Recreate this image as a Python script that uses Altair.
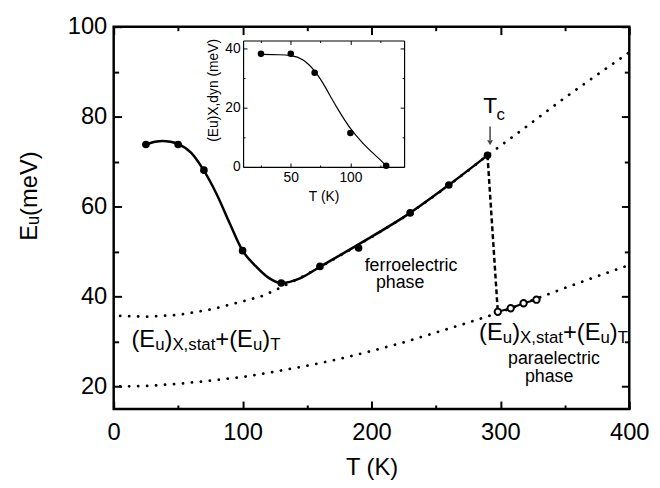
import altair as alt
import pandas as pd

# ---------------- data ----------------
# ferroelectric phase (filled circles)
T_ferro = [25, 50, 70, 100, 130, 160, 190, 230, 260, 290]
E_ferro = [73.8, 73.8, 68.1, 50.2, 43.0, 46.7, 50.8, 58.6, 64.8, 71.4]
# paraelectric phase (open circles)
T_para = [298, 308, 318, 328]
E_para = [36.6, 37.4, 38.5, 39.3]
# solid guide curve through the ferroelectric data
T_fit = [25, 32, 38, 44, 50, 60, 70, 80, 90, 100, 110, 120, 130, 145, 160, 190, 230, 260, 290]
E_fit = [73.8, 74.4, 74.6, 74.4, 73.9, 72.0, 68.0, 62.7, 56.3, 50.2, 46.8, 44.2, 43.0, 44.1, 46.6, 51.6, 58.6, 64.8, 71.4]
# dotted curves (Eu)X,stat + (Eu)T
T_upper = [5, 25, 50, 75, 100, 115, 126, 145, 160, 175, 200, 225, 250, 275, 290, 310, 330, 350, 375, 400]
E_upper = [35.7, 35.5, 35.9, 37.1, 38.9, 40.1, 41.5, 44.2, 46.5, 49.0, 53.2, 57.6, 62.6, 68.0, 71.4, 75.6, 79.9, 84.2, 89.3, 94.3]
T_lower = [5, 25, 50, 75, 100, 125, 150, 175, 200, 225, 250, 275, 300, 325, 350, 375, 400]
E_lower = [20.0, 20.1, 20.6, 21.3, 22.1, 23.3, 24.6, 26.1, 27.9, 29.8, 32.0, 34.2, 36.5, 39.2, 41.9, 44.5, 47.0]
# dashed jump at Tc
T_drop = [290, 298]
E_drop = [71.4, 36.6]
# Tc arrow
T_arrow = [292]
E_arrow_top = [77.8]
E_arrow_bot = [74.8]
E_arrow_head = [74.2]

# inset: (Eu)X,dyn
T_dyn = [25, 50, 70, 100, 130]
E_dyn = [38.2, 38.2, 31.8, 11.5, 0.4]
T_dynfit = [25, 40, 50, 60, 65, 70, 75, 80, 85, 90, 100, 110, 118, 125, 130]
E_dynfit = [38.0, 37.9, 37.6, 36.2, 34.6, 32.4, 29.6, 26.2, 22.6, 19.2, 13.0, 8.2, 5.0, 2.4, 0.4]

# ticks
x_ticks = [0, 50, 100, 150, 200, 250, 300, 350, 400]
y_ticks = [20, 30, 40, 50, 60, 70, 80, 90, 100]
inset_x_ticks = [25, 50, 75, 100, 125]
inset_y_ticks = [0, 10, 20, 30, 40]

# annotations
phase_text = ["ferroelectric", "phase", "paraelectric", "phase"]
phase_T = [230.7, 222.2, 341.6, 337.8]
phase_E = [45.6, 42.0, 25.05, 20.9]
label_T = [13.8, 283.5]
label_E = [28.8, 30.4]
label_segments = ["(E", "u", ")", "X,stat", "+(E", "u", ")", "T"]
label_is_sub = [False, True, False, True, False, True, False, True]
tc_T = [292]
tc_E = [80.7]

# ---------------- layout / style ----------------
FONT = "Liberation Sans"
W, H = 522, 387
BIG, SMALL = 24, 17
ARIAL = {'(': 0.333, ')': 0.333, 'E': 0.667, 'u': 0.556, 'X': 0.667, ',': 0.278,
         's': 0.5, 't': 0.278, 'a': 0.556, '+': 0.584, 'T': 0.611}

XS = alt.Scale(domain=[0, 400], nice=False, zero=False)
YS = alt.Scale(domain=[15, 100], nice=False, zero=False)
IXS = alt.Scale(domain=[10, 145], range=[131, 294], nice=False, zero=False)
IYS = alt.Scale(domain=[0, 42.7], range=[142, 14], nice=False, zero=False)

xmaj = "datum.value % 100 === 0"
ymaj = "datum.value % 20 === 0"
ixmaj = "datum.value % 50 === 0"
iymaj = "datum.value % 20 === 0"

ax_bottom = alt.Axis(orient="bottom", values=x_ticks, tickSize={"expr": f"{xmaj} ? -8 : -4"},
                     tickWidth=2, labelExpr=f"{xmaj} ? datum.label : ''", labelFontSize=24,
                     labelPadding=20, labelFlush=False, labelOverlap=False,
                     title="T (K)", titleFontSize=24, titlePadding=7)
ax_top = alt.Axis(orient="top", values=x_ticks, tickSize={"expr": f"{xmaj} ? -8 : -4"},
                  tickWidth=2, labels=False, title=None)
ax_left = alt.Axis(orient="left", values=y_ticks, tickSize={"expr": f"{ymaj} ? -8 : -5"},
                   tickWidth=2, labelExpr=f"{ymaj} ? datum.label : ''", labelFontSize=24,
                   labelPadding=15, labelFlush=False, labelOverlap=False,
                   title="E\u1d64(meV)", titleFontSize=24, titlePadding=26, titleY=171)
ax_right = alt.Axis(orient="right", values=y_ticks, tickSize={"expr": f"{ymaj} ? -8 : -5"},
                    tickWidth=2, labels=False, title=None)

iax_bottom = alt.Axis(orient="bottom", offset=-245, values=inset_x_ticks,
                      tickSize={"expr": f"{ixmaj} ? -4 : -2"}, tickWidth=1,
                      domain=True, domainColor="black", domainWidth=1.2,
                      labelExpr=f"{ixmaj} ? datum.label : ''", labelFontSize=14,
                      labelPadding=8, labelFlush=False, labelOverlap=False,
                      title="T (K)", titleFontSize=14, titlePadding=3)
iax_left = alt.Axis(orient="left", offset=-131, values=inset_y_ticks,
                    tickSize={"expr": f"{iymaj} ? -4 : -2"}, tickWidth=1,
                    domain=True, domainColor="black", domainWidth=1.2,
                    labelExpr=f"{iymaj} ? datum.label : ''", labelFontSize=14,
                    labelPadding=7, labelFlush=False, labelOverlap=False,
                    title="(Eu)X,dyn (meV)", titleFontSize=14, titlePadding=4, titleY=64)
iax_top = alt.Axis(orient="top", offset=-14, values=inset_x_ticks,
                   tickSize={"expr": f"{ixmaj} ? -4 : -2"}, tickWidth=1,
                   domain=True, domainColor="black", domainWidth=1.2, labels=False, title=None)
iax_right = alt.Axis(orient="right", offset=-228, values=inset_y_ticks,
                     tickSize={"expr": f"{iymaj} ? -4 : -2"}, tickWidth=1,
                     domain=True, domainColor="black", domainWidth=1.2, labels=False, title=None)


def mx(field="T", axis=None):
    return alt.X(field, type="quantitative", scale=XS, axis=axis)


def my(field="E", axis=None):
    return alt.Y(field, type="quantitative", scale=YS, axis=axis)


df_ferro = pd.DataFrame({"T": T_ferro, "E": E_ferro})
df_para = pd.DataFrame({"T": T_para, "E": E_para})
df_fit = pd.DataFrame({"T": T_fit, "E": E_fit})
df_up = pd.DataFrame({"T": T_upper, "E": E_upper})
df_lo = pd.DataFrame({"T": T_lower, "E": E_lower})
df_drop = pd.DataFrame({"T": T_drop, "E": E_drop})
df_arrow = pd.DataFrame({"T": T_arrow, "E": E_arrow_top, "E2": E_arrow_bot, "Eh": E_arrow_head})
df_dyn = pd.DataFrame({"T": T_dyn, "E": E_dyn})
df_dynfit = pd.DataFrame({"T": T_dynfit, "E": E_dynfit})
df_phase = pd.DataFrame({"T": phase_T, "E": phase_E, "txt": phase_text})
df_label = pd.DataFrame({"T": label_T, "E": label_E})
df_tc = pd.DataFrame({"T": tc_T, "E": tc_E})

layers = []
dot = dict(strokeDash=[0.1, 9], strokeWidth=2.8, strokeCap="round", color="black")
layers.append(alt.Chart(df_up).mark_line(**dot).encode(x=mx(axis=ax_bottom), y=my(axis=ax_left), order="T:Q"))
layers.append(alt.Chart(df_lo).mark_line(**dot).encode(x=mx(axis=ax_top), y=my(axis=ax_right), order="T:Q"))
layers.append(alt.Chart(df_fit).mark_line(interpolate="monotone", strokeWidth=2.5, color="black")
              .encode(x=mx(), y=my(), order="T:Q"))
layers.append(alt.Chart(df_drop).mark_line(strokeDash=[5, 3], strokeWidth=2.5, color="black")
              .encode(x=mx(), y=my(), order="T:Q"))
layers.append(alt.Chart(df_para).mark_line(strokeWidth=2, color="black").encode(x=mx(), y=my(), order="T:Q"))
layers.append(alt.Chart(df_para).mark_point(shape="circle", filled=True, fill="white", stroke="black",
                                            strokeWidth=2, size=42, opacity=1)
              .encode(x=mx(), y=my()))
layers.append(alt.Chart(df_ferro).mark_circle(size=60, color="black", opacity=1).encode(x=mx(), y=my()))
layers.append(alt.Chart(df_arrow).mark_rule(color="#444444", strokeWidth=1.5)
              .encode(x=mx(), y=my(), y2="E2:Q"))
layers.append(alt.Chart(df_arrow).mark_point(shape="triangle-down", filled=True, color="#444444",
                                             size=34, opacity=1)
              .encode(x=mx(), y=my("Eh")))
# Tc label
layers.append(alt.Chart(df_tc).mark_text(text="T", fontSize=23, align="center", baseline="alphabetic",
                                         color="black", font=FONT)
              .encode(x=mx(), y=my()))
layers.append(alt.Chart(df_tc).mark_text(text="c", fontSize=17, align="left", baseline="alphabetic",
                                         color="black", font=FONT, dx=6.5, dy=7)
              .encode(x=mx(), y=my()))
# phase labels
layers.append(alt.Chart(df_phase).mark_text(fontSize=18, align="center", baseline="alphabetic",
                                            color="black", font=FONT)
              .encode(x=mx(), y=my(), text="txt:N"))
# (Eu)X,stat+(Eu)T labels, built from segments
offset = 0.0
for seg, sub in zip(label_segments, label_is_sub):
    fs = SMALL if sub else BIG
    layers.append(alt.Chart(df_label).mark_text(text=seg, fontSize=fs, align="left", baseline="alphabetic",
                                                color="black", font=FONT, dx=offset, dy=3 if sub else 0)
                  .encode(x=mx(), y=my()))
    offset += sum(ARIAL.get(ch, 0.55) for ch in seg) * fs

# inset
layers.append(alt.Chart(df_dynfit).mark_line(interpolate="monotone", strokeWidth=1.2, color="black")
              .encode(x=alt.X("T", type="quantitative", scale=IXS, axis=iax_bottom),
                      y=alt.Y("E", type="quantitative", scale=IYS, axis=iax_left), order="T:Q"))
layers.append(alt.Chart(df_dyn).mark_circle(size=44, color="black", opacity=1)
              .encode(x=alt.X("T", type="quantitative", scale=IXS, axis=iax_top),
                      y=alt.Y("E", type="quantitative", scale=IYS, axis=iax_right)))

chart = (alt.layer(*layers)
         .resolve_scale(x="independent", y="independent")
         .resolve_axis(x="independent", y="independent")
         .properties(width=W, height=H,
                     padding={"left": 107, "top": 16, "right": 23, "bottom": 69},
                     autosize=alt.AutoSizeParams(type="none"))
         .configure_view(stroke="black", strokeWidth=2.5)
         .configure_axis(grid=False, domain=False, labelFont=FONT, titleFont=FONT,
                         labelColor="black", titleColor="black", tickColor="black",
                         titleFontWeight="normal")
         .configure_text(font=FONT))

chart.save("out.html", embed_options={"renderer": "svg", "actions": False})
